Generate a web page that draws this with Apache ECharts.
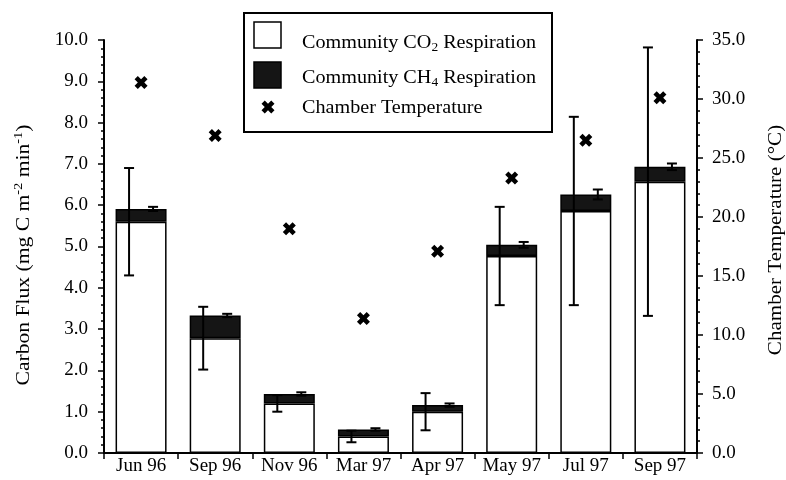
<!DOCTYPE html>
<html>
<head>
<meta charset="utf-8">
<script src="https://cdn.jsdelivr.net/npm/echarts@6/dist/echarts.min.js"></script>
<style>
html,body{margin:0;padding:0;background:#fff;}
#chart{width:786px;height:480px;}
</style>
</head>
<body>
<div id="chart"></div>
<script>
const categories = ['Jun 96','Sep 96','Nov 96','Mar 97','Apr 97','May 97','Jul 97','Sep 97'];
const co2Resp = [5.60, 2.78, 1.20, 0.40, 1.00, 4.77, 5.86, 6.57];
const ch4Resp = [0.31, 0.55, 0.23, 0.17, 0.16, 0.27, 0.40, 0.36];
const co2Err = [1.30, 0.76, 0.20, 0.14, 0.45, 1.19, 2.28, 3.25];
const ch4Err = [0.05, 0.04, 0.04, 0.03, 0.04, 0.07, 0.12, 0.08];
const chamberTemp = [31.4, 26.9, 19.0, 11.4, 17.1, 23.3, 26.5, 30.1];

const FONT = "'Liberation Serif','Times New Roman',serif";
const XPATH = 'path://M0,2.5 L2.5,0 L5,2.5 L7.5,0 L10,2.5 L7.5,5 L10,7.5 L7.5,10 L5,7.5 L2.5,10 L0,7.5 L2.5,5 Z';

function errRender(dx) {
  return function (params, api) {
    const i = api.value(0), c = api.value(1), e = api.value(2);
    const top = api.coord([i, c + e]);
    const bot = api.coord([i, c - e]);
    const x = top[0] + dx;
    const st = { stroke: '#000', lineWidth: 2 };
    return { type: 'group', children: [
      { type: 'line', shape: { x1: x, y1: top[1], x2: x, y2: bot[1] }, style: st },
      { type: 'line', shape: { x1: x - 5, y1: top[1], x2: x + 5, y2: top[1] }, style: st },
      { type: 'line', shape: { x1: x - 5, y1: bot[1], x2: x + 5, y2: bot[1] }, style: st }
    ]};
  };
}

const co2ErrData = categories.map((c, i) => [i, co2Resp[i], co2Err[i]]);
const ch4ErrData = categories.map((c, i) => [i, co2Resp[i] + ch4Resp[i], ch4Err[i]]);

const rich = {
  n: { fontFamily: FONT, fontSize: 18, color: '#000', lineHeight: 22, verticalAlign: 'middle' },
  sub: { fontFamily: FONT, fontSize: 12, color: '#000', lineHeight: 12, verticalAlign: 'bottom' },
  sup: { fontFamily: FONT, fontSize: 12, color: '#000', lineHeight: 12, verticalAlign: 'top' }
};

const chart = echarts.init(document.getElementById('chart'), null, { renderer: 'canvas' });
chart.setOption({
  animation: false,
  backgroundColor: '#fff',
  grid: { left: 104, right: 89, top: 40, bottom: 27 },
  xAxis: {
    type: 'category',
    data: categories,
    axisLine: { lineStyle: { color: '#000', width: 2 } },
    axisTick: { show: true, length: 6, inside: false, interval: 0, lineStyle: { color: '#000', width: 1.5 } },
    axisLabel: { color: '#000', fontFamily: FONT, fontSize: 19, margin: 4, interval: 0, hideOverlap: false }
  },
  yAxis: [
    {
      type: 'value', min: 0, max: 10, interval: 1, position: 'left',
      axisLine: { show: true, lineStyle: { color: '#000', width: 2 } },
      axisTick: { show: true, length: 6, lineStyle: { color: '#000', width: 1.5 } },
      minorTick: { show: true, splitNumber: 5, length: 3, lineStyle: { color: '#000', width: 1.5 } },
      splitLine: { show: false },
      axisLabel: { color: '#000', fontFamily: FONT, fontSize: 19, margin: 16, formatter: v => v.toFixed(1) }
    },
    {
      type: 'value', min: 0, max: 35, interval: 5, position: 'right',
      axisLine: { show: true, lineStyle: { color: '#000', width: 2 } },
      axisTick: { show: true, length: 6, lineStyle: { color: '#000', width: 1.5 } },
      minorTick: { show: true, splitNumber: 5, length: 3, lineStyle: { color: '#000', width: 1.5 } },
      splitLine: { show: false },
      axisLabel: { color: '#000', fontFamily: FONT, fontSize: 19, margin: 15, formatter: v => v.toFixed(1) }
    }
  ],
  series: [
    {
      name: 'Community CO2 Respiration', type: 'bar', stack: 'flux', data: co2Resp,
      barWidth: 51,
      itemStyle: { color: '#fff', borderColor: '#000', borderWidth: 1.5 }
    },
    {
      name: 'Community CH4 Respiration', type: 'bar', stack: 'flux', data: ch4Resp,
      barWidth: 51,
      itemStyle: { color: '#151515', borderColor: '#000', borderWidth: 1.5 }
    },
    {
      type: 'custom', name: 'co2err', renderItem: errRender(-12), data: co2ErrData,
      encode: { x: 0, y: 1 }, z: 5
    },
    {
      type: 'custom', name: 'ch4err', renderItem: errRender(12), data: ch4ErrData,
      encode: { x: 0, y: 1 }, z: 5
    },
    {
      name: 'Chamber Temperature', type: 'scatter', yAxisIndex: 1, data: chamberTemp,
      symbol: XPATH, symbolSize: 13, itemStyle: { color: '#000', opacity: 1 }, z: 6
    }
  ],
  graphic: [
    { type: 'rect', shape: { x: 244, y: 13, width: 308, height: 119 }, style: { fill: '#fff', stroke: '#000', lineWidth: 2 }, z: 10 },
    { type: 'rect', shape: { x: 254, y: 22, width: 27, height: 26 }, style: { fill: '#fff', stroke: '#000', lineWidth: 1.5 }, z: 11 },
    { type: 'rect', shape: { x: 254, y: 62, width: 27, height: 26 }, style: { fill: '#151515', stroke: '#000', lineWidth: 1.5 }, z: 11 },
    { type: 'polygon', x: 261.5, y: 100.5, scaleX: 1.3, scaleY: 1.3,
      shape: { points: [[0,2.5],[2.5,0],[5,2.5],[7.5,0],[10,2.5],[7.5,5],[10,7.5],[7.5,10],[5,7.5],[2.5,10],[0,7.5],[2.5,5]] },
      style: { fill: '#000' }, z: 11 },
    { type: 'text', x: 302, y: 43, scaleX: 1.12, z: 11,
      style: { text: '{n|Community CO}{sub|2}{n| Respiration}', rich: rich, verticalAlign: 'middle', align: 'left' } },
    { type: 'text', x: 302, y: 78, scaleX: 1.12, z: 11,
      style: { text: '{n|Community CH}{sub|4}{n| Respiration}', rich: rich, verticalAlign: 'middle', align: 'left' } },
    { type: 'text', x: 302, y: 108, scaleX: 1.12, z: 11,
      style: { text: '{n|Chamber Temperature}', rich: rich, verticalAlign: 'middle', align: 'left' } },
    { type: 'text', x: 24, y: 255, rotation: Math.PI / 2, scaleX: 1.2, z: 11,
      style: { text: '{n|Carbon Flux (mg C m}{sup|-2}{n| min}{sup|-1}{n|)}', rich: rich, verticalAlign: 'middle', align: 'center' } },
    { type: 'text', x: 776, y: 240, rotation: Math.PI / 2, scaleX: 1.17, z: 11,
      style: { text: '{n|Chamber Temperature (°C)}', rich: rich, verticalAlign: 'middle', align: 'center' } }
  ]
});
</script>
</body>
</html>
